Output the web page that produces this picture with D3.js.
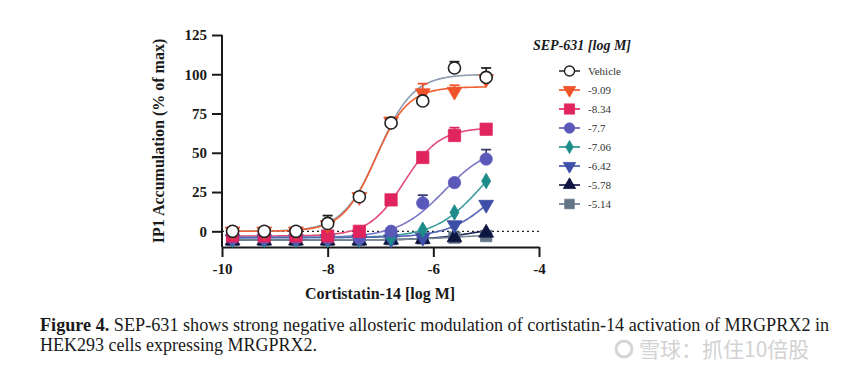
<!DOCTYPE html>
<html>
<head>
<meta charset="utf-8">
<script src="https://cdn.jsdelivr.net/npm/d3@7"></script>
<style>
  body { margin: 0; background: #fff; }
  svg { display: block; }
  .serif { font-family: "Liberation Serif", "Times New Roman", Times, "Noto Serif", "DejaVu Serif", serif; }
</style>
</head>
<body>
<div id="chart-area"></div>
<script>
// concentrations of cortistatin-14 (log M)
var doses = [-9.8, -9.2, -8.6, -8.0, -7.4, -6.8, -6.2, -5.6, -5.0];

// SEP-631 groups, in legend order
var groups = ["Vehicle", "-9.09", "-8.34", "-7.7", "-7.06", "-6.42", "-5.78", "-5.14"];

// mean responses (% of max), one list per group
var vehicle = [0, 0, 0, 5, 22, 69, 83, 104, 98];
var sep909  = [0, 0, 0, 4, 22, 70, 88, 89, 97];
var sep834  = [-3, -3, -3, -3, 0, 20, 47, 61, 65];
var sep77   = [-4.5, -4.5, -4.5, -4.5, -4.5, 0, 18, 31, 46];
var sep706  = [-5, -5, -5, -5, -5, -4, 1, 12, 32];
var sep642  = [-5, -5, -5, -5, -5, -5, -4, 4, 17];
var sep578  = [-6, -6, -6, -6, -6, -5.5, -5, -4, -1];
var sep514  = [-5.5, -5.5, -5.5, -5.5, -5.5, -5, -4.5, -4, -3];

// upward error bars (SEM), 0 = not shown
var vehicleErr = [0, 0, 0, 5, 1, 2, 0, 4, 6];
var sep909Err  = [0, 0, 0, 0, 0, 0, 6, 4, 0];
var sep834Err  = [0, 0, 0, 0, 0, 0, 0, 5, 0];
var sep77Err   = [0, 0, 0, 0, 0, 0, 5, 0, 6];
var zeroErr    = [0, 0, 0, 0, 0, 0, 0, 0, 0];

// fitted four-parameter curves: bottom, top, logEC50, hill
var fitBottom = [0, 0, -3, -4, -4, -4, -5.5, -5.5];
var fitTop    = [100, 92, 66, 55, 60, 50, 4, -2];
var fitEC50   = [-7.05, -7.1, -6.55, -5.8, -5.1, -4.8, -5.2, -5.6];
var fitHill   = [1.3, 1.4, 1.3, 1, 1, 1, 1, 1];

var yTicks = [0, 25, 50, 75, 100, 125];
var xTicks = [-10, -8, -6, -4];

var values = [vehicle, sep909, sep834, sep77, sep706, sep642, sep578, sep514];
var errors = [vehicleErr, sep909Err, sep834Err, sep77Err, zeroErr, zeroErr, zeroErr, zeroErr];
var fills  = ["#ffffff", "#f0522a", "#e0245e", "#5a58b8", "#1b8c8a", "#3e4fa8", "#0e1540", "#637587"];
var strokes = ["#222222", "#f0522a", "#e0245e", "#5a58b8", "#1b8c8a", "#3e4fa8", "#0e1540", "#637587"];
var errColors = ["#222222", "#f0522a", "#e0245e", "#3a3a70"];
var lineColors = ["#8c9bb0", "#f06035", "#e24a78", "#7a78c4", "#3c9c9c", "#5565b5", "#1c2458", "#7a8898"];
var shapes = [d3.symbolCircle, d3.symbolTriangle, d3.symbolSquare, d3.symbolCircle,
              d3.symbolDiamond, d3.symbolTriangle, d3.symbolTriangle, d3.symbolSquare];
var flip   = [false, true, false, false, false, true, false, false];
var sizes  = [115, 95, 150, 120, 70, 95, 95, 130];

var W = 865, H = 369;
var svg = d3.select("#chart-area").append("svg")
    .attr("width", W)
    .attr("height", H);

var x = d3.scaleLinear().domain([-10, -4]).range([222, 539]);
var y = d3.scaleLinear().domain([-10, 125]).range([247, 35]);

// axes
var yAxis = svg.append("g")
    .attr("transform", "translate(222,0)")
    .call(d3.axisLeft(y).tickValues(yTicks).tickSize(10).tickSizeOuter(0));
var xAxis = svg.append("g")
    .attr("transform", "translate(0,247)")
    .call(d3.axisBottom(x).tickValues(xTicks).tickSize(10).tickSizeOuter(0)
        .tickFormat(function (d) { return d; }));

[xAxis, yAxis].forEach(function (a) {
    a.attr("font-family", null);
    a.select(".domain").attr("stroke", "#1a1a1a").attr("stroke-width", 2);
    a.selectAll(".tick line").attr("stroke", "#1a1a1a").attr("stroke-width", 2);
    a.selectAll(".tick text")
        .attr("class", "serif")
        .attr("fill", "#1a1a1a")
        .attr("font-weight", "bold")
        .attr("font-size", "15px");
});
yAxis.selectAll(".tick text").attr("x", -15);
xAxis.selectAll(".tick text").attr("y", 16);
// y domain goes down to the x axis
yAxis.select(".domain").attr("d", "M0," + y(125) + "V" + y(-10));

// zero reference line
svg.append("line")
    .attr("x1", x(-10)).attr("x2", x(-4))
    .attr("y1", y(0)).attr("y2", y(0))
    .attr("stroke", "#222")
    .attr("stroke-width", 1.3)
    .attr("stroke-dasharray", "2,3");

// axis titles
svg.append("text")
    .attr("class", "serif")
    .attr("x", 380).attr("y", 299)
    .attr("text-anchor", "middle")
    .attr("font-weight", "bold")
    .attr("font-size", "16px")
    .attr("fill", "#1a1a1a")
    .text("Cortistatin-14 [log M]");

svg.append("text")
    .attr("class", "serif")
    .attr("transform", "translate(164,141) rotate(-90)")
    .attr("text-anchor", "middle")
    .attr("font-weight", "bold")
    .attr("font-size", "16px")
    .attr("fill", "#1a1a1a")
    .text("IP1 Accumulation (% of max)");

// fitted curves
var fitX = d3.range(doses[0], doses[doses.length - 1] + 0.001, 0.02);
var line = d3.line()
    .x(function (d) { return x(d[0]); })
    .y(function (d) { return y(d[1]); });

groups.forEach(function (g, i) {
    var pts = fitX.map(function (lx) {
        return [lx, fitBottom[i] + (fitTop[i] - fitBottom[i]) /
            (1 + Math.pow(10, (fitEC50[i] - lx) * fitHill[i]))];
    });
    svg.append("path")
        .attr("d", line(pts))
        .attr("fill", "none")
        .attr("stroke", lineColors[i])
        .attr("stroke-width", 1.6);
});

// points and error bars, drawn back to front from the last group
d3.range(groups.length).reverse().forEach(function (i) {
    var gg = svg.append("g");
    doses.forEach(function (dose, j) {
        var e = errors[i][j];
        if (e > 0) {
            gg.append("line")
                .attr("x1", x(dose)).attr("x2", x(dose))
                .attr("y1", y(values[i][j])).attr("y2", y(values[i][j] + e))
                .attr("stroke", errColors[i]).attr("stroke-width", 1.6);
            gg.append("line")
                .attr("x1", x(dose) - 5).attr("x2", x(dose) + 5)
                .attr("y1", y(values[i][j] + e)).attr("y2", y(values[i][j] + e))
                .attr("stroke", errColors[i]).attr("stroke-width", 1.8);
        }
    });
    gg.selectAll("path")
        .data(values[i])
        .enter()
        .append("path")
        .attr("d", d3.symbol().type(shapes[i]).size(sizes[i]))
        .attr("transform", function (d, j) {
            return "translate(" + x(doses[j]) + "," + y(d) + ")" + (flip[i] ? " rotate(180)" : "");
        })
        .attr("fill", fills[i])
        .attr("stroke", strokes[i])
        .attr("stroke-width", i === 0 ? 1.6 : 0.8);
});

// legend
svg.append("text")
    .attr("class", "serif")
    .attr("x", 582).attr("y", 50)
    .attr("text-anchor", "middle")
    .attr("font-weight", "bold")
    .attr("font-style", "italic")
    .attr("font-size", "14px")
    .attr("fill", "#1a1a1a")
    .text("SEP-631 [log M]");

var legend = svg.append("g");
groups.forEach(function (g, i) {
    var ly = 71 + i * 19;
    legend.append("line")
        .attr("x1", 559).attr("x2", 580)
        .attr("y1", ly).attr("y2", ly)
        .attr("stroke", i === 0 ? "#333" : strokes[i])
        .attr("stroke-width", 1.6);
    legend.append("path")
        .attr("d", d3.symbol().type(shapes[i]).size(sizes[i] * 0.7))
        .attr("transform", "translate(569.5," + ly + ")" + (flip[i] ? " rotate(180)" : ""))
        .attr("fill", fills[i])
        .attr("stroke", strokes[i])
        .attr("stroke-width", i === 0 ? 1.4 : 0.8);
    legend.append("text")
        .attr("class", "serif")
        .attr("x", 588).attr("y", ly + 4)
        .attr("font-size", "11px")
        .attr("fill", "#333")
        .text(g);
});

// caption
var cap1 = svg.append("text")
    .attr("class", "serif")
    .attr("x", 40).attr("y", 331)
    .attr("font-size", "18px")
    .attr("fill", "#1a1a1a");
cap1.append("tspan").attr("font-weight", "bold").text("Figure 4.");
cap1.append("tspan").text(" SEP-631 shows strong negative allosteric modulation of cortistatin-14 activation of MRGPRX2 in");

var cap2 = svg.append("text")
    .attr("class", "serif")
    .attr("x", 40).attr("y", 351)
    .attr("font-size", "18px")
    .attr("fill", "#1a1a1a")
    .text("HEK293 cells expressing MRGPRX2.");

// squeeze caption lines to their measured widths
[[cap1, 790], [cap2, 277]].forEach(function (c) {
    var w = c[0].node().getBBox().width;
    var s = c[1] / w;
    c[0].attr("transform", "translate(40,0) scale(" + s + ",1) translate(-40,0)");
});

// watermark, kept below the first caption line
svg.append("circle")
    .attr("cx", 624).attr("cy", 349).attr("r", 8)
    .attr("fill", "none").attr("stroke", "#d6d6d6").attr("stroke-width", 3);
svg.append("text")
    .attr("x", 639).attr("y", 357)
    .attr("font-family", "'Noto Sans CJK SC', sans-serif")
    .attr("font-size", "21px")
    .attr("fill", "#d2d2d2")
    .text("雪球：抓住10倍股");
</script>
</body>
</html>
